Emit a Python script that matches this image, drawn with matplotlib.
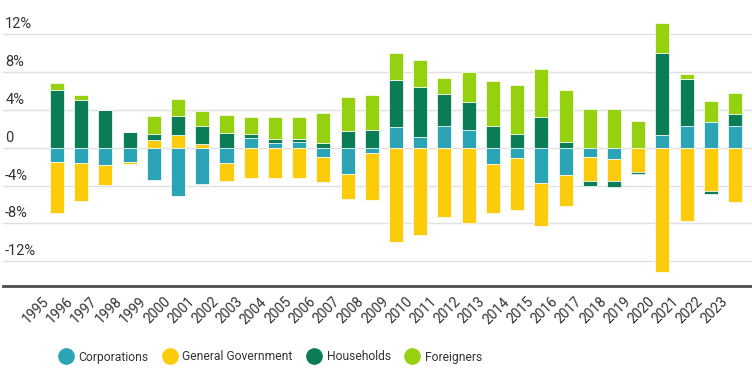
import matplotlib
matplotlib.use("Agg")
import matplotlib.pyplot as plt
from matplotlib.transforms import ScaledTranslation, blended_transform_factory
from matplotlib.lines import Line2D
import numpy as np

years = [str(y) for y in range(1995, 2024)]
corporations = [-1.55, -1.6, -1.87, -1.55, -3.4, -5.1, -3.87, -1.62, 0.99, 0.53, 0.56, -0.95, -2.78, -0.6,
                2.22, 1.16, 2.32, 1.87, -1.73, -1.13, -3.77, -2.89, -1.02, -1.23, 0.0, 1.34, 2.29, 2.71, 2.29]
general_government = [-5.3, -4.0, -2.08, -0.18, 0.81, 1.37, 0.39, -1.9, -3.24, -3.17, -3.17, -2.71, -2.6, -4.96,
                      -10.0, -9.26, -7.36, -7.92, -5.21, -5.49, -4.54, -3.24, -2.5, -2.29, -2.57, -13.13, -7.75, -4.54, -5.74]
households = [6.1, 5.0, 4.0, 1.7, 0.63, 1.97, 1.94, 1.51, 0.46, 0.35, 0.32, 0.53, 1.73, 1.87,
              4.93, 5.28, 3.38, 2.92, 2.32, 1.44, 3.27, 0.56, -0.53, -0.6, -0.25, 8.63, 4.96, -0.39, 1.27]
foreigners = [0.77, 0.6, 0.0, 0.0, 1.94, 1.76, 1.51, 1.94, 1.76, 2.32, 2.32, 3.1, 3.66, 3.7,
              2.89, 2.82, 1.62, 3.17, 4.75, 5.14, 5.0, 5.56, 4.05, 4.12, 2.82, 3.17, 0.49, 2.18, 2.18]

series_names = ["Corporations", "General Government", "Households", "Foreigners"]
series_colors = ["#2ba5b5", "#fccb0a", "#0a7d56", "#95d10f"]
series = [corporations, general_government, households, foreigners]

y_ticks = [-12, -8, -4, 0, 4, 8, 12]
y_labels = ["-12%", "-8%", "-4%", "0", "4%", "8%", "12%"]

plt.rcParams['font.family'] = ['Roboto', 'DejaVu Sans']

W, H = 752, 371
fig = plt.figure(figsize=(W / 100, H / 100), dpi=100)
ax_bottom_px = 285.7
ax = fig.add_axes([3 / W, (H - ax_bottom_px) / H, 749 / W, ax_bottom_px / H])

x = np.arange(len(years))
pos_base = np.zeros(len(years))
neg_base = np.zeros(len(years))
for vals, color in zip(series, series_colors):
    v = np.array(vals)
    bottoms = np.where(v >= 0, pos_base, neg_base)
    ax.bar(x, v, bottom=bottoms, width=0.58, color=color, edgecolor='white', linewidth=0.5, zorder=3)
    pos_base = pos_base + np.where(v >= 0, v, 0)
    neg_base = neg_base + np.where(v < 0, v, 0)

ax.set_xlim(-2.23, 28.7)
ax.set_ylim(-14.57, 15.6)

for t in y_ticks:
    ax.axhline(t, color='#e0e0e0', linewidth=1, zorder=1)
ax.set_yticks([])
trans = blended_transform_factory(ax.transAxes, ax.transData)
for t, lab in zip(y_ticks, y_labels):
    ax.text(0.003, t, lab, transform=trans + ScaledTranslation(0, 3 / 100, fig.dpi_scale_trans),
            ha='left', va='bottom', fontsize=10.5, color='#333333')

for s in ['top', 'right', 'left']:
    ax.spines[s].set_visible(False)
ax.spines['bottom'].set_color('#4d4d4d')
ax.spines['bottom'].set_linewidth(2)

ax.set_xticks(x, labels=years, rotation=45, ha='right', rotation_mode='anchor', fontsize=10, color='#333333')
ax.tick_params(axis='x', length=0, pad=0)
for lbl in ax.get_xticklabels():
    lbl.set_va('center')
    lbl.set_transform(lbl.get_transform() + ScaledTranslation(-10 / 100, -14 / 100, fig.dpi_scale_trans))

handles = [Line2D([0], [0], marker='o', linestyle='', markersize=11, markerfacecolor=c, markeredgecolor=c)
           for c in series_colors]
fig.legend(handles, series_names, loc='center', bbox_to_anchor=(268 / W, 1 - 357 / H), ncol=4,
           frameon=False, prop={'size': 8.7}, handletextpad=0.0, columnspacing=0.8,
           labelcolor='#333333')

fig.savefig("out.png", dpi=100)
